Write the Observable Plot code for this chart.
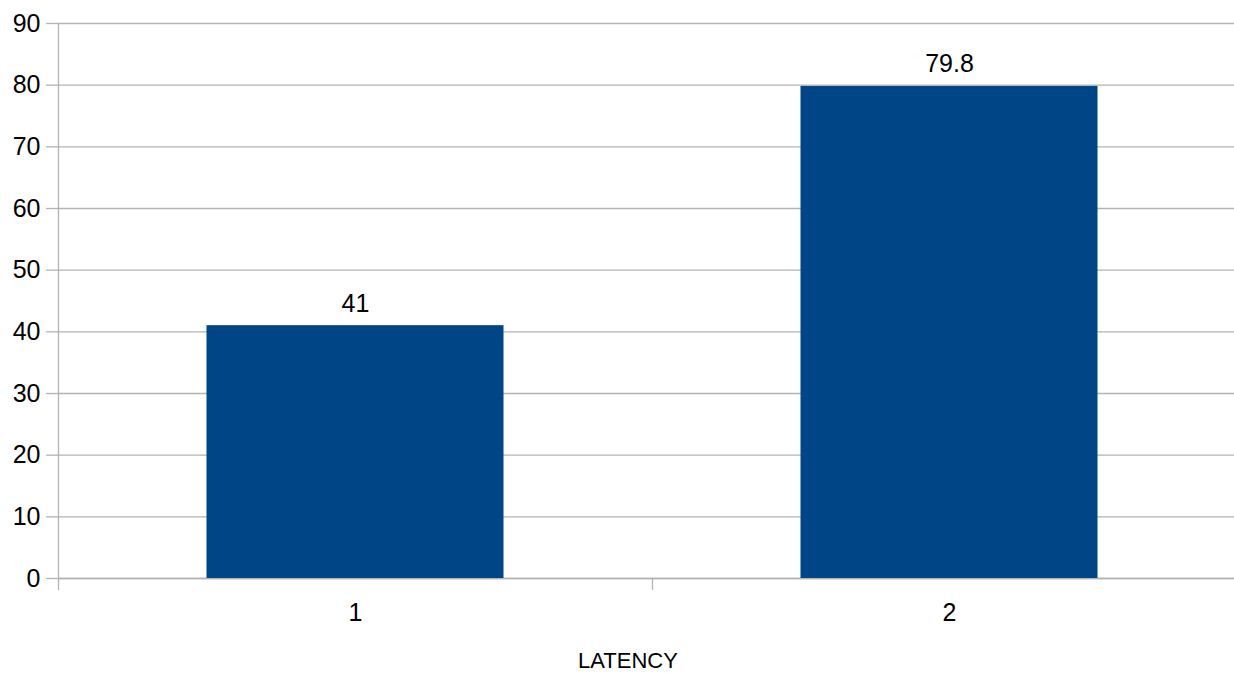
<!DOCTYPE html>
<html>
<head>
<meta charset="utf-8">
<script src="https://cdn.jsdelivr.net/npm/d3@7"></script>
<script src="https://cdn.jsdelivr.net/npm/@observablehq/plot@0.6"></script>
<style>
  html, body { margin: 0; padding: 0; background: #fff; }
  #chart svg { display: block; }
  #chart svg text { font-family: 'Liberation Sans', Arial, sans-serif; }
</style>
</head>
<body>
<div id="chart"></div>
<script>
const categories = ["1", "2"];
const values = [41, 79.8];
const yTicks = [0, 10, 20, 30, 40, 50, 60, 70, 80, 90];
const xTitle = "LATENCY";

const data = categories.map((c, i) => ({cat: c, idx: i, value: values[i]}));
const gridColor = "#b3b3b3";

const chart = Plot.plot({
  width: 1234,
  height: 673,
  marginTop: 23,
  marginBottom: 95,
  marginLeft: 58,
  marginRight: 0,
  style: {background: "#fff", color: "#000", fontFamily: "'Liberation Sans', Arial, sans-serif"},
  x: {type: "linear", domain: [0, categories.length], range: [58, 1246]},
  y: {domain: [0, 90]},
  marks: [
    Plot.gridY(yTicks, {stroke: gridColor, strokeOpacity: 1, strokeWidth: 1.3}),
    Plot.axisY(yTicks, {tickSize: 12, tickPadding: 6, stroke: gridColor, strokeWidth: 1.3, fill: "#000", fontSize: 25, label: null}),
    Plot.ruleX([0], {y1: 0, y2: 90, stroke: gridColor, strokeWidth: 1.3}),
    Plot.ruleY([0], {stroke: gridColor, strokeWidth: 1.3}),
    Plot.axisX(d3.range(categories.length + 1), {tickSize: 12, tickFormat: () => "", stroke: gridColor, strokeWidth: 1.3, label: null}),
    Plot.axisX(categories.map((c, i) => i + 0.5), {tickSize: 0, tickPadding: 25, tickFormat: (d) => categories[Math.floor(d)], fill: "#000", fontSize: 25, label: null}),
    Plot.rectY(data, {x1: "idx", x2: (d) => d.idx + 1, y: "value", fill: "#004586", insetLeft: 148.5, insetRight: 148.5}),
    Plot.text(data, {x: (d) => d.idx + 0.5, y: "value", text: (d) => String(d.value), dy: -22, fill: "#000", fontSize: 25}),
    Plot.text([xTitle], {frameAnchor: "bottom", dx: -18.5, dy: 89, text: (d) => d, fill: "#000", fontSize: 22})
  ]
});
document.getElementById("chart").appendChild(chart);
</script>
</body>
</html>
